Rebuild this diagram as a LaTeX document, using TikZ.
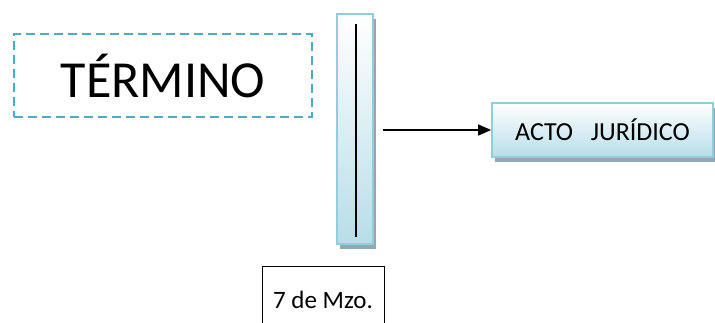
\documentclass[tikz,border=0pt]{standalone}
\usepackage{fontspec}
\setmainfont{Carlito}
\usetikzlibrary{arrows.meta,shadows,calc}
\definecolor{dashblue}{HTML}{4BACC6}
\definecolor{edgeblue}{HTML}{92CDDC}
\definecolor{fillblue}{HTML}{B7DDE8}
\definecolor{shadowgray}{HTML}{8FA8B2}
\tikzset{
  dashbox/.style={draw=dashblue, line width=2pt, dash pattern=on 9pt off 5pt, inner sep=0pt, minimum width=298pt, minimum height=83pt, font=\fontsize{52}{52}\selectfont},
  bluebox/.style={draw=edgeblue, line width=1.8pt, top color=white, bottom color=fillblue, inner sep=0pt,
    drop shadow={shadow xshift=3pt, shadow yshift=-5pt, fill=shadowgray, opacity=1}},
  plainbox/.style={draw=black, line width=1pt, inner sep=0pt, minimum width=122pt, minimum height=75pt},
  conn/.style={line width=1.6pt, -{Triangle[length=13pt,width=11pt]}},
  innerline/.style={line width=1.5pt}
}
\begin{document}
\begin{tikzpicture}[x=1pt,y=1pt]
\useasboundingbox (0,0) rectangle (715,323);
\clip (0,0) rectangle (715,323);
\node[dashbox] (term) at (163,247.5) {TÉRMINO};
\node[bluebox, minimum width=36pt, minimum height=230pt] (bar) at (355,194) {};
\coordinate (lt) at (356,299);
\coordinate (lb) at (356,86);
\draw[innerline] (lt) -- (lb);
\node[bluebox, minimum width=221pt, minimum height=54pt, font=\fontsize{26}{26}\selectfont] (acto) at (602.5,193) {ACTO\ \ \ JURÍDICO};
\coordinate (astart) at (383,193);
\draw[conn] (astart) -- (acto.west);
\node[plainbox] (fecha) at (323,18.5) {};
\node[font=\fontsize{25}{25}\selectfont] (fechatxt) at (323,23) {7 de Mzo.};
\end{tikzpicture}
\end{document}
